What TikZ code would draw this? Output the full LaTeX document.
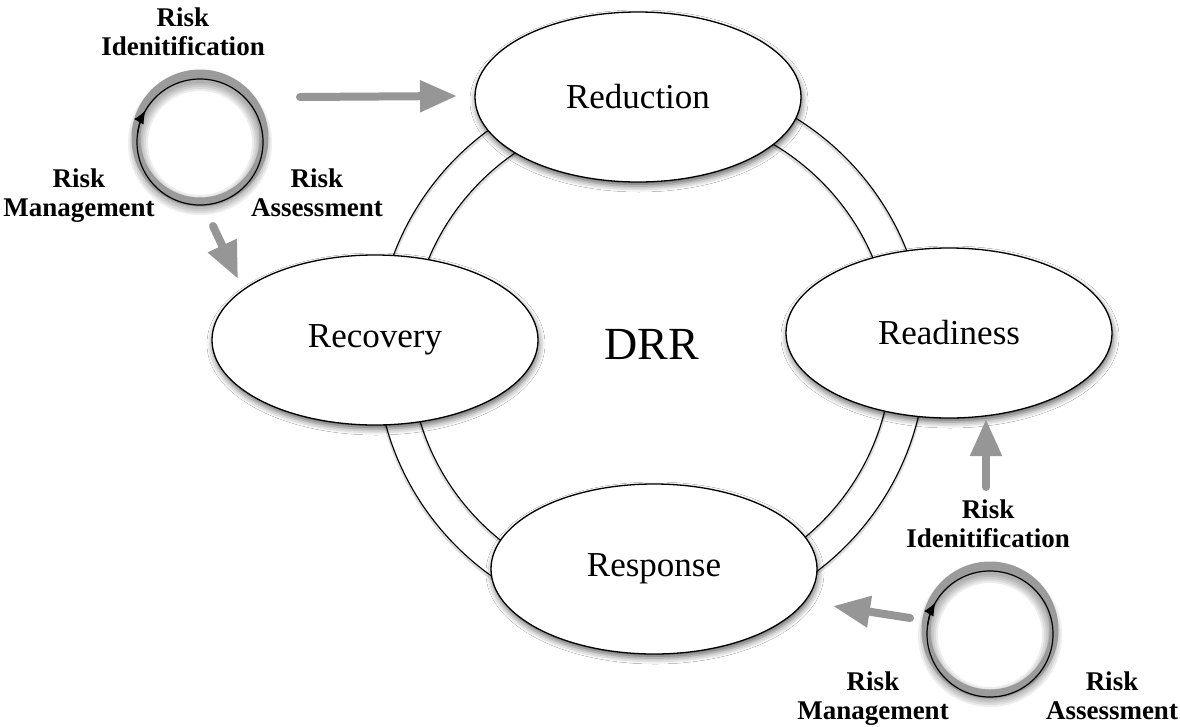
\documentclass[tikz,border=0pt]{standalone}
\usepackage{fontspec}
\setmainfont{Liberation Serif}
\usetikzlibrary{arrows.meta,shapes.geometric,shadows.blur}
\definecolor{flowgray}{RGB}{150,150,150}
\definecolor{ringgray}{RGB}{155,155,155}

% a small risk cycle: #1 name of its centre, #2 position
\newcommand{\riskcycle}[2]{%
  \coordinate (#1) at #2;
  \begin{scope}[shift={(#1)}]
    \foreach \w in {4,8,12,16,20}
      \draw[black, opacity=0.07, line width=\w pt] (0,1) circle[radius=62];
    \draw[ringgray, line width=9pt] (0,-4) circle[radius=64];
    \draw[line width=1.2pt] (0,0) circle[radius=63];
    \draw[line width=1.2pt, -{Latex[length=13pt,width=11pt]}]
      (188:63) arc[start angle=188, end angle=210, radius=63];
  \end{scope}}

\begin{document}
\begin{tikzpicture}[x=1pt,y=-1pt,
  phase/.style={ellipse, draw=black, line width=1.3pt, fill=white,
    minimum width=326pt, minimum height=170pt, inner sep=0pt,
    font=\fontsize{35}{40}\selectfont,
    blur shadow={shadow xshift=1pt, shadow yshift=-4pt,
      shadow blur radius=6pt, shadow opacity=60}},
  tag/.style={font=\fontsize{27}{29}\selectfont\bfseries, align=center,
    inner sep=0pt},
  flow/.style={draw=flowgray, line width=8pt, line cap=round,
    -{Triangle[length=37pt,width=30pt]}},
  ringline/.style={line width=1.1pt},
  ringshade/.style={black!30, line width=3pt, opacity=0.45}]

\fill[white] (0,0) rectangle (1180,726);
\useasboundingbox (0,0) rectangle (1180,726);

% the double ring linking the four phases
\coordinate (hub) at (651,352);
\foreach \r in {275,241}
  \draw[ringshade] ([yshift=-2pt]hub) circle[radius=\r];
\foreach \r in {275,241}
  \draw[ringline] (hub) circle[radius=\r];

% the four phases
\node[phase] (reduction) at (638,97)  {Reduction};
\node[phase] (recovery)  at (375,340) {Recovery};
\node[phase] (readiness) at (949,333) {Readiness};
\node[phase] (response)  at (654,569) {Response};
\node[font=\fontsize{46}{50}\selectfont, inner sep=0pt] (drr) at (652,344) {DRR};

% risk cycles
\riskcycle{cycA}{(200,142)}
\riskcycle{cycB}{(990,634)}

\node[tag, anchor=north] (idA) at (183,8)   {Risk\\Idenitification};
\node[tag, anchor=north] (mgA) at (79,169)  {Risk\\Management};
\node[tag, anchor=north] (asA) at (317,169) {Risk\\Assessment};
\node[tag, anchor=north] (idB) at (988,500) {Risk\\Idenitification};
\node[tag, anchor=north] (mgB) at (873,672) {Risk\\Management};
\node[tag, anchor=north] (asB) at (1112,672) {Risk\\Assessment};

% grey flow arrows
\coordinate (f1a) at (300,97);  \coordinate (f1b) at (457,96);
\coordinate (f2a) at (213,226); \coordinate (f2b) at (238,279);
\coordinate (f3a) at (986,487); \coordinate (f3b) at (986,419);
\coordinate (f4a) at (910,618); \coordinate (f4b) at (833,606);
\draw[flow] (f1a) -- (f1b);
\draw[flow] (f2a) -- (f2b);
\draw[flow] (f3a) -- (f3b);
\draw[flow] (f4a) -- (f4b);
\end{tikzpicture}
\end{document}
